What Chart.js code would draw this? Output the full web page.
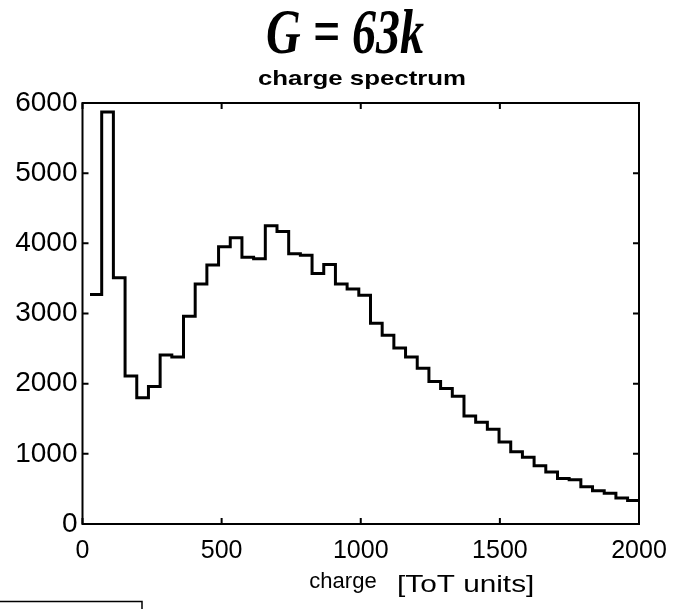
<!DOCTYPE html>
<html>
<head>
<meta charset="utf-8">
<script src="https://cdn.jsdelivr.net/npm/chart.js@4.4.1/dist/chart.umd.min.js"></script>
<style>
  html, body { margin: 0; padding: 0; background: #fff; }
  #wrap { width: 681px; height: 609px; }
</style>
</head>
<body>
<div id="wrap"><canvas id="spektrum" width="681" height="609"></canvas></div>
<script>
// histogram bins (left edge of each bin, ToT units)
const binEdges = [27, 69, 111, 153, 195, 237, 279, 321, 363, 405, 447, 489, 531, 573, 615, 657,
  699, 741, 783, 825, 867, 909, 951, 993, 1035, 1077, 1119, 1161, 1203, 1245, 1287, 1329,
  1371, 1413, 1455, 1497, 1539, 1581, 1623, 1665, 1707, 1749, 1791, 1833, 1875, 1917, 1959];
const counts = [3270, 5870, 3510, 2110, 1800, 1960, 2410, 2380, 2960, 3420, 3690, 3950, 4080, 3800, 3780, 4250,
  4170, 3850, 3830, 3570, 3700, 3420, 3350, 3260, 2860, 2690, 2510, 2380, 2220, 2030, 1930, 1820,
  1540, 1450, 1350, 1170, 1030, 950, 830, 740, 650, 630, 530, 475, 440, 370, 335];
const xTicks = [0, 500, 1000, 1500, 2000];
const yTicks = [0, 1000, 2000, 3000, 4000, 5000, 6000];

const headline = "G = 63k";
const plotTitle = "charge spectrum";
const xLabel = "charge";
const unitLabel = "[ToT units]";

const sansFont = "'Liberation Sans', Arial, sans-serif";

// stairs: each bin starts at its left edge, last one runs to the axis end
const points = binEdges.map((e, i) => ({ x: e, y: counts[i] }));
points.push({ x: xTicks[xTicks.length - 1], y: counts[counts.length - 1] });

// text drawn a bit wider than the font gives (the original fonts are wide)
function wideText(ctx, text, x, y, sx, sy) {
  ctx.save();
  ctx.translate(x, y);
  ctx.scale(sx, sy);
  ctx.fillText(text, 0, 0);
  ctx.restore();
}

// frame + inward ticks on all four sides, plus the texts around the plot
const decor = {
  id: "decor",
  afterDatasetsDraw(chart) {
    const { ctx, chartArea: a, scales } = chart;
    ctx.save();
    ctx.strokeStyle = "#000";
    ctx.lineWidth = 2;
    ctx.strokeRect(a.left, a.top, a.right - a.left, a.bottom - a.top);
    const tl = 6;
    ctx.beginPath();
    xTicks.forEach(v => {
      const px = scales.x.getPixelForValue(v);
      ctx.moveTo(px, a.bottom); ctx.lineTo(px, a.bottom - tl);
      ctx.moveTo(px, a.top); ctx.lineTo(px, a.top + tl);
    });
    yTicks.forEach(v => {
      const py = scales.y.getPixelForValue(v);
      ctx.moveTo(a.left, py); ctx.lineTo(a.left + tl, py);
      ctx.moveTo(a.right, py); ctx.lineTo(a.right - tl, py);
    });
    ctx.stroke();

    ctx.fillStyle = "#000";
    ctx.textAlign = "center";
    ctx.textBaseline = "alphabetic";
    ctx.font = "bold italic 48px 'Liberation Serif', 'Times New Roman', serif";
    wideText(ctx, headline, 345, 53, 1, 1.33);

    ctx.font = "bold 21px " + sansFont;
    wideText(ctx, plotTitle, 362, 85, 1.23, 1);
    ctx.font = "22px " + sansFont;
    wideText(ctx, xLabel, 343, 588, 1, 1);
    ctx.textAlign = "left";
    ctx.font = "24px " + sansFont;
    wideText(ctx, unitLabel, 397, 592, 1.24, 1);

    // corner of a text box cut off at the bottom left
    ctx.lineWidth = 1.5;
    ctx.beginPath();
    ctx.moveTo(0, 601.5); ctx.lineTo(142, 601.5); ctx.lineTo(142, 609);
    ctx.stroke();
    ctx.restore();
  }
};

new Chart(document.getElementById("spektrum").getContext("2d"), {
  type: "line",
  data: {
    datasets: [{
      data: points,
      stepped: "before",
      borderColor: "#000",
      borderWidth: 3,
      pointRadius: 0,
      fill: false
    }]
  },
  options: {
    responsive: false,
    animation: false,
    layout: { padding: { left: 0, right: 42, top: 103, bottom: 0 } },
    plugins: { legend: { display: false }, tooltip: { enabled: false }, title: { display: false } },
    scales: {
      x: {
        type: "linear", min: 0, max: 2000,
        afterBuildTicks: s => { s.ticks = xTicks.map(v => ({ value: v })); },
        afterFit: s => { s.height = 85; },
        grid: { display: false, drawTicks: false },
        border: { display: false },
        ticks: { color: "#000", font: { family: sansFont, size: 25 }, padding: 12, maxRotation: 0,
          callback: v => String(v) }
      },
      y: {
        type: "linear", min: 0, max: 6000,
        afterBuildTicks: s => { s.ticks = yTicks.map(v => ({ value: v })); },
        afterFit: s => { s.width = 82.5; },
        grid: { display: false, drawTicks: false },
        border: { display: false },
        ticks: { color: "#000", font: { family: sansFont, size: 28 }, padding: 5,
          callback: v => String(v) }
      }
    }
  },
  plugins: [decor]
});
</script>
</body>
</html>
